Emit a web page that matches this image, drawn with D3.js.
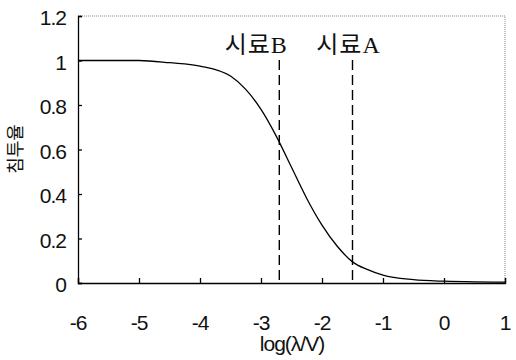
<!DOCTYPE html>
<html>
<head>
<meta charset="utf-8">
<script src="https://cdn.jsdelivr.net/npm/d3@7"></script>
<style>
  body { margin: 0; background: #fff; }
  text { fill: #111; }
</style>
</head>
<body>
<svg id="chart" width="516" height="360"></svg>
<script>
// curve
var logX = [-6, -5.5, -5, -4.5, -4, -3.5, -3.25, -3, -2.75, -2.5, -2.25, -2, -1.75, -1.5, -1.25, -1, -0.5, 0, 0.5, 1];
var rate = [1.0, 1.0, 1.0, 0.99, 0.975, 0.93, 0.87, 0.78, 0.66, 0.52, 0.38, 0.26, 0.165, 0.095, 0.06, 0.035, 0.015, 0.008, 0.005, 0.004];

// sample markers
var sampleNames = ["시료B", "시료A"];
var samplePos = [-2.7, -1.5];
var labelShift = [-23, -4];

var xTicks = [-6, -5, -4, -3, -2, -1, 0, 1];
var yTicks = [0, 0.2, 0.4, 0.6, 0.8, 1, 1.2];

var svg = d3.select("#chart");
var mLeft = 78, mRight = 505, mTop = 16, mBottom = 283;

var x = d3.scaleLinear().domain([-6, 1]).range([mLeft, mRight]);
var y = d3.scaleLinear().domain([0, 1.2]).range([mBottom, mTop]);

// frame: dotted top & right
svg.append("path")
    .attr("d", "M" + mLeft + "," + mTop + "H" + mRight + "V" + mBottom)
    .attr("fill", "none")
    .attr("stroke", "#888")
    .attr("stroke-width", 1)
    .attr("stroke-dasharray", "1,1");

// y axis
var yAxis = svg.append("g")
    .attr("transform", "translate(" + mLeft + ",0)")
    .call(d3.axisRight(y).tickValues(yTicks).tickSize(4).tickFormat(""));
yAxis.select(".domain").attr("stroke", "#000").attr("stroke-width", 1.3);
yAxis.selectAll(".tick line").attr("stroke", "#000").attr("stroke-width", 1.3);

svg.selectAll(".ylab")
    .data(yTicks)
    .enter().append("text")
    .attr("class", "ylab")
    .attr("x", 66)
    .attr("y", function (d) { return y(d) + 9; })
    .attr("text-anchor", "end")
    .style("font-family", "Liberation Sans, Arial, sans-serif")
    .style("font-size", "21px")
    .style("letter-spacing", "-1px")
    .text(function (d) { return d; });

// x axis
var xAxis = svg.append("g")
    .attr("transform", "translate(0," + mBottom + ")")
    .call(d3.axisTop(x).tickValues(xTicks).tickSize(5).tickFormat(""));
xAxis.select(".domain").attr("stroke", "#000").attr("stroke-width", 1.3);
xAxis.selectAll(".tick line").attr("stroke", "#000").attr("stroke-width", 1.3);

svg.selectAll(".xlab")
    .data(xTicks)
    .enter().append("text")
    .attr("class", "xlab")
    .attr("x", function (d) { return x(d); })
    .attr("y", 330)
    .attr("text-anchor", "middle")
    .style("font-family", "Liberation Sans, Arial, sans-serif")
    .style("font-size", "21px")
    .style("letter-spacing", "-1px")
    .text(function (d) { return d; });

// axis titles
svg.append("text")
    .attr("x", 292)
    .attr("y", 351)
    .attr("text-anchor", "middle")
    .style("font-family", "Liberation Sans, Arial, sans-serif")
    .style("font-size", "21px")
    .style("letter-spacing", "-1px")
    .text("log(λ/V)");

svg.append("text")
    .attr("transform", "translate(22,149) rotate(-90)")
    .attr("text-anchor", "middle")
    .style("font-family", "Noto Sans CJK KR, sans-serif")
    .style("font-size", "18px")
    .text("침투율");

// dashed sample lines
svg.selectAll(".sample")
    .data(samplePos)
    .enter().append("line")
    .attr("class", "sample")
    .attr("x1", function (d) { return x(d); })
    .attr("x2", function (d) { return x(d); })
    .attr("y1", 60)
    .attr("y2", mBottom)
    .attr("stroke", "#000")
    .attr("stroke-width", 1.4)
    .attr("stroke-dasharray", "10,5");

svg.selectAll(".sampleLab")
    .data(samplePos)
    .enter().append("text")
    .attr("class", "sampleLab")
    .attr("x", function (d, i) { return x(d) + labelShift[i]; })
    .attr("y", 53)
    .attr("text-anchor", "middle")
    .style("font-family", "Liberation Serif, Noto Sans CJK KR, serif")
    .style("font-size", "24px")
    .style("letter-spacing", "1px")
    .text(function (d, i) { return sampleNames[i]; });

// the curve
var line = d3.line()
    .x(function (d) { return x(d[0]); })
    .y(function (d) { return y(d[1]); })
    .curve(d3.curveMonotoneX);

svg.append("path")
    .datum(d3.zip(logX, rate))
    .attr("d", line)
    .attr("fill", "none")
    .attr("stroke", "#000")
    .attr("stroke-width", 1.3);
</script>
</body>
</html>
